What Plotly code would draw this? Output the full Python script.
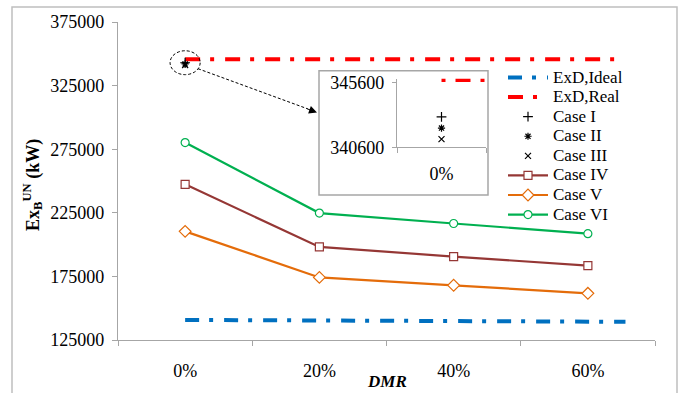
import plotly.graph_objects as go

# ---- data ----
categories = ["0%", "20%", "40%", "60%"]
cat_pos = [0, 1, 2, 3]

exd_ideal_x = [0, 1, 2, 3, 3.28]
exd_ideal = [140800, 140300, 139800, 139400, 139300]
exd_real_x = [0, 1, 2, 3, 3.2]
exd_real = [345800, 345800, 345800, 345800, 345800]

case1 = [342950]
case2 = [342080]
case3 = [341220]
case4 = [247400, 198200, 190600, 183400]
case5 = [210400, 174200, 168000, 161700]
case6 = [280200, 224800, 216600, 208600]

y_ticks = [125000, 175000, 225000, 275000, 325000, 375000]
inset_ticks = [340600, 345600]

FONT = "Liberation Serif"
AX = "#A6A6A6"


def lg(name):
    return '<span style="font-size:17px">' + name + '</span>'


fig = go.Figure()

# main traces
fig.add_trace(go.Scatter(x=exd_ideal_x, y=exd_ideal, mode="lines", name=lg("ExD,Ideal"),
                         line=dict(color="#0070C0", width=4, dash="14px,10px,4px,11px")))
fig.add_trace(go.Scatter(x=exd_real_x, y=exd_real, mode="lines", name=lg("ExD,Real"),
                         line=dict(color="#FF0000", width=4, dash="15px,10px,4px,11px")))
fig.add_trace(go.Scatter(x=cat_pos[:1], y=case1, mode="markers", name=lg("Case I"),
                         marker=dict(symbol="cross-thin", size=7, color="black",
                                     line=dict(color="black", width=1.2))))
fig.add_trace(go.Scatter(x=cat_pos[:1], y=case2, mode="markers", name=lg("Case II"),
                         marker=dict(symbol="asterisk", size=6, color="black",
                                     line=dict(color="black", width=1.2))))
fig.add_trace(go.Scatter(x=cat_pos[:1], y=case3, mode="markers", name=lg("Case III"),
                         marker=dict(symbol="x-thin", size=6, color="black",
                                     line=dict(color="black", width=1.2))))
fig.add_trace(go.Scatter(x=cat_pos, y=case4, mode="lines+markers", name=lg("Case IV"),
                         line=dict(color="#953735", width=2.2),
                         marker=dict(symbol="square", size=8, color="white",
                                     line=dict(color="#953735", width=1.2))))
fig.add_trace(go.Scatter(x=cat_pos, y=case5, mode="lines+markers", name=lg("Case V"),
                         line=dict(color="#E46C0A", width=2.2),
                         marker=dict(symbol="diamond", size=9, color="white",
                                     line=dict(color="#E46C0A", width=1.2))))
fig.add_trace(go.Scatter(x=cat_pos, y=case6, mode="lines+markers", name=lg("Case VI"),
                         line=dict(color="#00B050", width=2.2),
                         marker=dict(symbol="circle", size=8, color="white",
                                     line=dict(color="#00B050", width=1.2))))

# inset traces
fig.add_trace(go.Scatter(x=exd_real_x, y=exd_real, mode="lines", showlegend=False,
                         xaxis="x2", yaxis="y2",
                         line=dict(color="#FF0000", width=4, dash="4px,10px,15px,10px")))
for vals, sym, sz in [(case1, "cross-thin", 7), (case2, "asterisk", 6), (case3, "x-thin", 6)]:
    fig.add_trace(go.Scatter(x=cat_pos[:1], y=vals, mode="markers", showlegend=False,
                             xaxis="x2", yaxis="y2",
                             marker=dict(symbol=sym, size=sz, color="black",
                                         line=dict(color="black", width=1.2))))

W, H = 681, 393
L, R, T, B = 118, 26, 21, 52
PW, PH = W - L - R, H - T - B


def px(x):
    return (x - L) / PW


def py(y):
    return (H - B - y) / PH


fig.update_layout(
    width=W, height=H,
    margin=dict(l=L, r=R, t=T, b=B),
    paper_bgcolor="white", plot_bgcolor="white",
    font=dict(family=FONT, size=18, color="black"),
    xaxis=dict(range=[-0.5, 3.5], tickvals=cat_pos, ticktext=categories, ticks="",
               showline=True, linecolor=AX, linewidth=1.3, showgrid=False, zeroline=False,
               ticklabelstandoff=14,
               minor=dict(tick0=-0.5, dtick=1, ticks="outside", ticklen=5,
                          tickcolor=AX, tickwidth=1.3, showgrid=False)),
    yaxis=dict(range=[125000, 375000], tickvals=y_ticks, tickformat="d", ticks="outside",
               ticklen=5, tickcolor=AX, tickwidth=1.3, showline=True, linecolor=AX,
               linewidth=1.3, showgrid=False, zeroline=False, ticklabelstandoff=4),
    xaxis2=dict(domain=[px(397), px(486)], anchor="y2", range=[-0.5, 0.5], tickvals=[0],
                ticktext=["0%"], ticks="", showline=True, linecolor=AX, linewidth=1.3,
                showgrid=False, zeroline=False, ticklabelstandoff=10,
                minor=dict(tick0=-0.5, dtick=1, ticks="outside", ticklen=5,
                           tickcolor=AX, tickwidth=1.3, showgrid=False)),
    yaxis2=dict(domain=[py(147), py(78)], anchor="x2", range=[340600, 345900],
                tickvals=inset_ticks, tickformat="d", ticks="outside", ticklen=4,
                tickcolor=AX, tickwidth=1.3, showline=True, linecolor=AX, linewidth=1.3,
                showgrid=False, zeroline=False, ticklabelstandoff=4),
    legend=dict(x=px(503), y=py(62), xanchor="left", yanchor="top",
                font=dict(family=FONT, size=12.75), bgcolor="rgba(0,0,0,0)",
                itemwidth=40, tracegroupgap=0),
    showlegend=True,
)

shapes = [
    # outer chart border
    dict(type="rect", xref="paper", yref="paper", x0=px(12), x1=px(677), y0=py(420), y1=py(6),
         line=dict(color="#BFBFBF", width=1.5), fillcolor="rgba(0,0,0,0)", layer="below"),
    # inset frame
    dict(type="rect", xref="paper", yref="paper", x0=px(319), x1=px(488), y0=py(195), y1=py(70),
         line=dict(color=AX, width=1.5), fillcolor="white", layer="below"),
    # dashed ellipse around the 0% points
    dict(type="circle", xref="x", yref="y", x0=-0.112, x1=0.112, y0=333600, y1=352400,
         line=dict(color="black", width=1, dash="3px,2px")),
    # dashed arrow shaft
    dict(type="line", xref="paper", yref="paper", x0=px(198), y0=py(68), x1=px(308), y1=py(108.5),
         line=dict(color="black", width=1, dash="3px,2px")),
]
fig.update_layout(shapes=shapes)

fig.add_annotation(xref="paper", yref="paper", x=px(317), y=py(112), ax=-11, ay=-4,
                   text="", showarrow=True, arrowhead=2, arrowsize=1.6, arrowwidth=1,
                   arrowcolor="black")
fig.add_annotation(xref="paper", yref="paper", x=px(33), y=py(185), textangle=-90,
                   text="<b>Ex<sub>B</sub><sup>UN</sup> (kW)</b>", showarrow=False,
                   font=dict(family=FONT, size=18), xanchor="center", yanchor="middle")
fig.add_annotation(xref="paper", yref="paper", x=px(387), y=py(383),
                   text="<b><i>DMR</i></b>", showarrow=False,
                   font=dict(family=FONT, size=17), xanchor="center", yanchor="middle")

fig.write_html("out.html", post_script="document.body.style.margin='0';",
               config={"displayModeBar": False})
